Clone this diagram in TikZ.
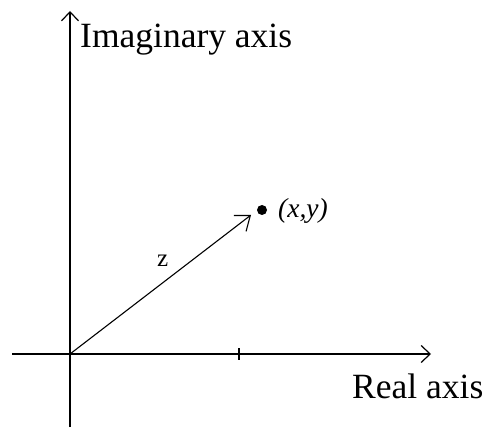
\documentclass[tikz,border=0pt]{standalone}
\usepackage{fontspec}
\setmainfont{Liberation Serif}
\usetikzlibrary{arrows.meta}
\begin{document}
\begin{tikzpicture}[x=1pt,y=-1pt,
  axis/.style={line width=2pt,-{Straight Barb[length=9pt,width=17pt,line width=1.2pt]}},
  vec/.style={line width=1.1pt,-{Straight Barb[length=13pt,width=20pt,line width=1.1pt]}},
  lbl/.style={inner sep=0pt,anchor=base west,font=\fontsize{35.5}{40}\selectfont},
  dot/.style={circle,fill=black,inner sep=0pt,minimum size=10pt}]
\useasboundingbox (0,0) rectangle (487,430);
\coordinate (O) at (70,354);
\coordinate (xl) at (12,354);
\coordinate (xr) at (431,354);
\coordinate (yb) at (70,427);
\coordinate (yt) at (70,11);
\coordinate (t1) at (239,348);
\coordinate (t2) at (239,360);
\coordinate (Z) at (251,215);
\draw[axis] (xl) -- (xr);
\draw[axis] (yb) -- (yt);
\draw[line width=2pt] (t1) -- (t2);
\node[dot] (P) at (262,210) {};
\draw[vec] (O) -- (Z);
\node[lbl,font=\fontsize{27.5}{30}\selectfont\itshape] (pt) at (278,218) {(x,y)};
\node[lbl,font=\fontsize{25}{30}\selectfont] (z) at (157,266) {z};
\node[lbl] (ima) at (80,48) {Imaginary axis};
\node[lbl] (re) at (352,398) {Real axis};
\end{tikzpicture}
\end{document}
